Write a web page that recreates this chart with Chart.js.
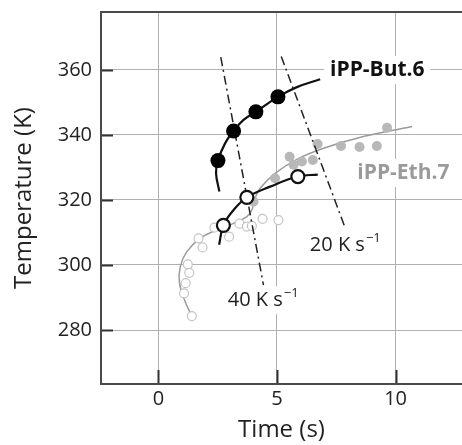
<!DOCTYPE html>
<html>
<head>
<meta charset="utf-8">
<script src="https://cdn.jsdelivr.net/npm/chart.js@4.4.1/dist/chart.umd.min.js"></script>
<style>
  html, body { margin: 0; padding: 0; background: #fff; }
  #wrap { width: 462px; height: 445px; }
</style>
</head>
<body>
<div id="wrap"><canvas id="myChart" width="462" height="445"></canvas></div>
<script>
// tick labels
const xTicks = [0, 5, 10];
const yTicks = [280, 300, 320, 340, 360];

// iPP-But.6 : filled black points and fit curve
const but6Points = [[2.51, 332.1], [3.17, 341.2], [4.11, 347.1], [5.04, 351.7]];
const but6Curve = [[2.57, 322.6], [2.43, 328.2], [2.51, 332.1], [2.81, 337.4], [3.17, 341.2],
    [3.59, 344.6], [4.11, 347.1], [5.04, 351.7], [5.84, 354.7], [6.82, 357.1]];

// open black circles (crossing points) and their curve
const crossPoints = [[2.74, 312.2], [3.73, 320.8], [5.88, 327.2]];
const crossCurve = [[2.56, 306.2], [2.74, 312.2], [3.17, 316.9], [3.73, 320.8], [4.71, 324.1],
    [5.88, 327.2], [6.72, 327.8]];

// iPP-Eth.7 : grey filled and open circles, grey curve
const eth7Filled = [[4.01, 319.5], [4.92, 326.7], [5.53, 333.3], [5.70, 330.8], [6.05, 331.8],
    [6.51, 332.3], [6.71, 337.2], [7.70, 336.6], [8.48, 336.3], [9.21, 336.6], [9.64, 342.2]];
const eth7Open = [[1.41, 284.3], [1.08, 291.3], [1.15, 294.4], [1.30, 297.6], [1.24, 300.2],
    [1.86, 305.4], [1.69, 308.2], [2.36, 311.5], [2.98, 308.7], [3.42, 312.7], [3.73, 311.8],
    [3.94, 312.0], [4.39, 314.2], [5.06, 313.8]];
const eth7Curve = [[1.41, 284.3], [1.13, 288.7], [0.89, 294.4], [0.92, 299.5], [1.20, 304.1],
    [1.76, 308.2], [2.46, 310.8], [3.17, 312.8], [3.73, 314.9], [3.94, 316.9], [4.04, 320.0],
    [4.29, 323.6], [4.92, 328.2], [5.84, 332.5], [6.96, 335.9], [8.37, 339.0], [10.69, 342.6]];

// heating-rate lines
const rate40 = [[2.63, 363.9], [4.43, 293.8]];
const rate20 = [[5.18, 364.1], [7.88, 311.3]];

const textLabels = [
    { text: 'iPP-But.6', x: 9.23, y: 360.0, color: '#111', bold: true },
    { text: 'iPP-Eth.7', x: 10.33, y: 328.3, color: '#9a9a9a', bold: true },
    { text: '20 K s', sup: '\u22121', x: 7.88, y: 306.2, color: '#222', bold: false },
    { text: '40 K s', sup: '\u22121', x: 4.42, y: 289.2, color: '#222', bold: false }
];

const FONT = "'Open Sans', 'Noto Sans', sans-serif";
const xy = arr => arr.map(p => ({ x: p[0], y: p[1] }));

const frameAndTicks = {
    id: 'frameAndTicks',
    afterDatasetsDraw(chart) {
        const ctx = chart.ctx;
        const a = chart.chartArea;
        const xs = chart.scales.x, ys = chart.scales.y;
        ctx.save();
        // text labels with white background
        textLabels.forEach(l => {
            const px = xs.getPixelForValue(l.x);
            const py = ys.getPixelForValue(l.y);
            const mainFont = (l.bold ? 'bold ' : '') + (l.bold ? '21px ' : '20px ') + FONT;
            const supFont = '13px ' + FONT;
            ctx.font = mainFont;
            const w1 = ctx.measureText(l.text).width;
            let w2 = 0;
            if (l.sup) { ctx.font = supFont; w2 = ctx.measureText(l.sup).width + 1; }
            const w = w1 + w2;
            const x0 = px - w / 2;
            ctx.fillStyle = '#fff';
            ctx.fillRect(x0 - 6, py - 14, w + 12, 28);
            ctx.fillStyle = l.color;
            ctx.textBaseline = 'middle';
            ctx.textAlign = 'left';
            ctx.font = mainFont;
            ctx.fillText(l.text, x0, py);
            if (l.sup) {
                ctx.font = supFont;
                ctx.fillText(l.sup, x0 + w1 + 1, py - 7);
            }
        });
        // inward tick marks
        ctx.strokeStyle = '#333';
        ctx.lineWidth = 2;
        ctx.beginPath();
        xTicks.forEach(v => {
            const px = Math.round(xs.getPixelForValue(v)) + 0.5;
            ctx.moveTo(px, a.bottom);
            ctx.lineTo(px, a.bottom - 14);
        });
        yTicks.forEach(v => {
            const py = Math.round(ys.getPixelForValue(v)) + 0.5;
            ctx.moveTo(a.left, py);
            ctx.lineTo(a.left + 12, py);
        });
        ctx.stroke();
        // frame: top, left, bottom
        ctx.strokeStyle = '#4a4a4a';
        ctx.lineWidth = 2;
        ctx.beginPath();
        ctx.moveTo(a.right, a.top);
        ctx.lineTo(a.left, a.top);
        ctx.lineTo(a.left, a.bottom);
        ctx.lineTo(a.right, a.bottom);
        ctx.stroke();
        ctx.restore();
    }
};

const gridStyle = {
    color: '#b0b0b0',
    lineWidth: 1,
    drawTicks: false
};

function noPad(s) {
    s.paddingTop = 0;
    s.paddingBottom = 0;
    s.paddingLeft = 0;
    s.paddingRight = 0;
}

const ctx = document.getElementById('myChart').getContext('2d');
const myChart = new Chart(ctx, {
    type: 'scatter',
    data: {
        datasets: [
            {
                data: xy(eth7Curve), showLine: true, borderColor: '#9a9a9a', borderWidth: 1.5,
                tension: 0.4, pointRadius: 0, order: 9
            },
            {
                data: xy(eth7Open), showLine: false, pointRadius: 4.5, borderWidth: 1.2,
                borderColor: '#c4c4c4', backgroundColor: '#fff', order: 8
            },
            {
                data: xy(eth7Filled), showLine: false, pointRadius: 5, borderWidth: 0,
                borderColor: '#b8b8b8', backgroundColor: '#b8b8b8', order: 7
            },
            {
                data: xy(rate40), showLine: true, borderColor: '#222', borderWidth: 1.5,
                borderDash: [9, 4, 2, 4], pointRadius: 0, order: 6
            },
            {
                data: xy(rate20), showLine: true, borderColor: '#222', borderWidth: 1.5,
                borderDash: [9, 4, 2, 4], pointRadius: 0, order: 5
            },
            {
                data: xy(crossCurve), showLine: true, borderColor: '#111', borderWidth: 2.2,
                tension: 0.4, pointRadius: 0, order: 4
            },
            {
                data: xy(but6Curve), showLine: true, borderColor: '#111', borderWidth: 2.2,
                tension: 0.4, pointRadius: 0, order: 3
            },
            {
                data: xy(crossPoints), showLine: false, pointRadius: 6.5, borderWidth: 2.2,
                borderColor: '#111', backgroundColor: '#fff', order: 2
            },
            {
                data: xy(but6Points), showLine: false, pointRadius: 7.5, borderWidth: 0,
                borderColor: '#000', backgroundColor: '#000', order: 1
            }
        ]
    },
    options: {
        animation: false,
        responsive: false,
        events: [],
        layout: { autoPadding: false, padding: { top: 12, right: 0, left: 0, bottom: 0 } },
        plugins: { legend: { display: false }, tooltip: { enabled: false } },
        scales: {
            x: {
                type: 'linear',
                min: -2.42,
                max: 12.8,
                afterBuildTicks: s => { s.ticks = xTicks.map(v => ({ value: v })); },
                afterFit: s => { s.height = 61; noPad(s); },
                border: { display: false },
                grid: Object.assign({}, gridStyle, { borderDash: [1, 2] }),
                ticks: { color: '#222', font: { family: FONT, size: 20 }, padding: 3, maxRotation: 0 },
                title: { display: true, text: 'Time (s)', color: '#222', font: { family: FONT, size: 24 }, padding: 0 }
            },
            y: {
                type: 'linear',
                min: 263.4,
                max: 377.8,
                afterBuildTicks: s => { s.ticks = yTicks.map(v => ({ value: v })); },
                afterFit: s => { s.width = 101; noPad(s); },
                border: { display: false },
                grid: Object.assign({}, gridStyle, { borderDash: [1, 2] }),
                ticks: { color: '#222', font: { family: FONT, size: 20 }, padding: 9 },
                title: { display: true, text: 'Temperature (K)', color: '#222', font: { family: FONT, size: 24 }, padding: { top: 10, bottom: 0 } }
            }
        }
    },
    plugins: [frameAndTicks]
});
</script>
</body>
</html>
